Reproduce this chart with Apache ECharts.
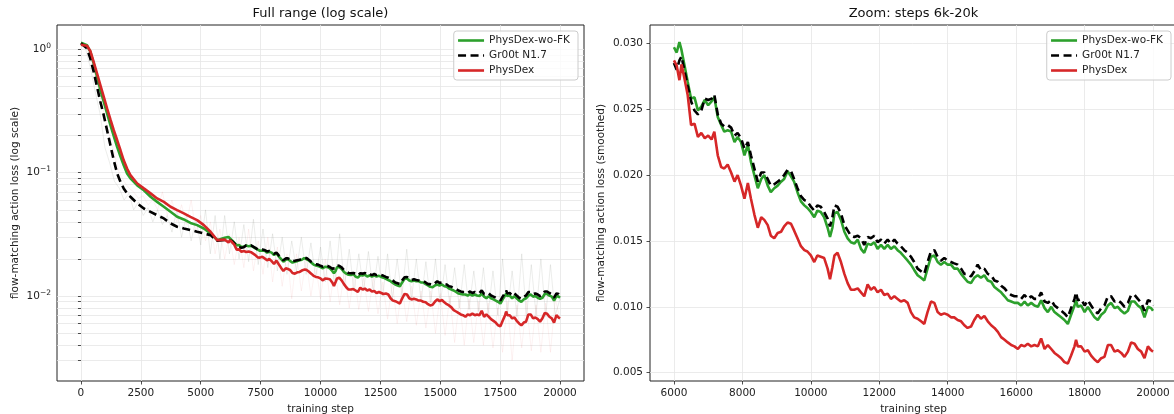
<!DOCTYPE html>
<html><head><meta charset="utf-8">
<script src="https://cdn.jsdelivr.net/npm/echarts@6/dist/echarts.min.js"></script>
<style>html,body{margin:0;padding:0;background:#fff}#c{width:1174px;height:414px}</style>
</head><body><div id="c"></div>
<script>
// ---- series names ----
const names = ['PhysDex-wo-FK', 'Gr00t N1.7', 'PhysDex'];

// ---- early part (steps 0 .. 5700), smoothed ----
const earlySteps = [0,250,390,530,670,810,950,1090,1230,1370,
  1510,1650,1785,1925,2065,2350,2625,2905,3180,3460,
  3740,4015,4295,4570,4850,5130,5410,5685];
const earlyWoFK = [1.13,1.08,0.957,0.77,0.60,0.468,0.376,0.303,0.243,0.198,
  0.162,0.135,0.115,0.0987,0.090,0.079,0.072,0.0638,0.058,0.053,
  0.0482,0.0439,0.0418,0.0392,0.0376,0.0353,0.0322,0.0284];
const earlyGr00t = [1.12,1.02,0.845,0.659,0.498,0.376,0.293,0.221,0.167,0.126,
  0.0987,0.0844,0.0746,0.068,0.0638,0.0564,0.0513,0.0482,0.0453,0.0426,
  0.0388,0.0365,0.0353,0.0343,0.0332,0.0322,0.0312,0.0281];
const earlyPhysDex = [1.09,1.07,0.97,0.79,0.64,0.513,0.413,0.332,0.270,0.221,
  0.184,0.152,0.126,0.108,0.0957,0.0818,0.0746,0.068,0.0619,0.058,
  0.053,0.0498,0.0468,0.0439,0.0413,0.0376,0.0332,0.0284];

// ---- late part (steps 6000 .. 20000), smoothed ----
const lateSteps = [6000,6080,6160,6220,6310,6400,6500,6600,6700,6800,
  6900,7000,7100,7180,7280,7380,7470,7570,7670,7770,
  7860,7960,8060,8160,8250,8350,8450,8550,8640,8740,
  8830,8930,9030,9130,9220,9320,9420,9510,9610,9710,
  9810,9900,10000,10100,10190,10290,10390,10490,10560,10630,
  10690,10780,10880,10980,11075,11170,11270,11370,11465,11560,
  11660,11755,11855,11950,12050,12145,12245,12340,12440,12535,
  12630,12730,12830,12925,13020,13120,13220,13315,13410,13510,
  13610,13705,13800,13900,14000,14095,14190,14290,14390,14485,
  14580,14680,14775,14875,14970,15070,15170,15270,15365,15465,
  15560,15660,15755,15855,15950,16050,16145,16245,16340,16440,
  16535,16635,16730,16830,16925,17025,17120,17220,17315,17410,
  17510,17605,17705,17750,17800,17900,18000,18095,18190,18290,
  18385,18485,18580,18680,18775,18875,18970,19070,19165,19265,
  19360,19460,19555,19655,19750,19850,19945,20000];
const lateWoFK = [.0297,.0293,.0301,.0295,.0283,.0271,.0258,.0259,.0249,.0252,
  .0257,.0253,.0256,.0259,.0244,.0238,.0233,.0234,.0233,.0225,
  .0229,.0225,.0215,.0223,.0210,.0200,.0190,.0197,.0200,.0192,
  .0187,.0190,.0192,.0195,.0197,.0203,.0199,.0195,.0187,.0180,
  .0177,.0175,.0172,.0168,.0173,.0172,.0168,.0160,.0153,.0160,
  .0171,.0172,.0166,.0157,.0152,.0149,.0148,.0151,.0144,.0141,
  .0148,.0147,.0149,.0144,.0147,.0144,.0147,.0144,.0146,.0143,
  .0141,.0138,.0135,.0132,.0128,.0124,.0122,.0120,.0129,.0138,
  .0139,.0134,.0132,.0134,.0132,.0132,.0129,.0129,.0125,.0122,
  .0119,.0118,.0122,.0124,.0122,.0124,.0120,.0119,.0115,.0113,
  .0111,.0108,.0105,.0104,.0103,.0103,.0101,.0104,.0101,.0103,
  .0101,.0100,.0105,.0099,.0096,.0100,.0096,.0094,.0092,.0090,
  .0087,.0094,.0101,.0105,.0100,.0101,.0096,.0100,.0096,.0092,
  .0090,.0094,.0096,.0101,.0103,.0099,.0100,.0097,.0095,.0097,
  .0104,.0104,.0101,.0099,.0092,.0100,.0099,.0097];
const lateGr00t = [.0285,.0280,.0287,.0290,.0279,.0268,.0256,.0249,.0246,.0249,
  .0258,.0257,.0258,.0261,.0246,.0239,.0237,.0238,.0236,.0230,
  .0232,.0228,.0220,.0225,.0215,.0205,.0195,.0202,.0202,.0197,
  .0192,.0193,.0195,.0197,.0200,.0204,.0203,.0197,.0190,.0184,
  .0181,.0180,.0176,.0173,.0177,.0176,.0172,.0167,.0161,.0168,
  .0177,.0176,.0171,.0162,.0158,.0154,.0153,.0154,.0152,.0147,
  .0153,.0152,.0154,.0149,.0151,.0148,.0151,.0148,.0151,.0148,
  .0146,.0143,.0141,.0138,.0134,.0129,.0127,.0125,.0134,.0142,
  .0143,.0138,.0135,.0137,.0135,.0134,.0133,.0132,.0129,.0125,
  .0125,.0123,.0127,.0132,.0128,.0129,.0125,.0124,.0120,.0119,
  .0116,.0114,.0111,.0109,.0108,.0108,.0106,.0109,.0106,.0108,
  .0106,.0106,.0111,.0104,.0103,.0105,.0101,.0099,.0097,.0095,
  .0092,.0099,.0106,.0111,.0105,.0106,.0101,.0105,.0101,.0097,
  .0095,.0099,.0101,.0108,.0108,.0104,.0105,.0103,.0100,.0103,
  .0109,.0109,.0106,.0103,.0097,.0105,.0104,.0101];
const latePhysDex = [.0287,.0283,.0272,.0284,.0273,.0261,.0238,.0239,.0229,.0232,
  .0228,.0230,.0227,.0233,.0215,.0206,.0205,.0208,.0202,.0195,
  .0200,.0192,.0182,.0194,.0182,.0170,.0160,.0168,.0166,.0162,
  .0154,.0152,.0156,.0157,.0161,.0164,.0163,.0158,.0152,.0146,
  .0143,.0142,.0139,.0134,.0139,.0138,.0137,.0129,.0121,.0130,
  .0139,.0141,.0134,.0125,.0118,.0113,.0113,.0114,.0111,.0108,
  .0117,.0113,.0115,.0111,.0113,.0109,.0110,.0106,.0108,.0106,
  .0104,.0105,.0103,.0096,.0092,.0091,.0089,.0087,.0096,.0104,
  .0103,.0096,.0094,.0095,.0094,.0092,.0092,.0090,.0089,.0086,
  .0084,.0085,.0090,.0094,.0091,.0093,.0089,.0086,.0084,.0081,
  .0077,.0075,.0073,.0071,.0070,.0068,.0071,.0070,.0072,.0070,
  .0071,.0070,.0076,.0068,.0071,.0068,.0065,.0063,.0061,.0058,
  .0057,.0063,.0070,.0075,.0070,.0070,.0066,.0067,.0063,.0060,
  .0058,.0061,.0062,.0071,.0071,.0066,.0067,.0065,.0062,.0066,
  .0073,.0072,.0068,.0066,.0061,.0070,.0067,.0066];

// ---- raw (unsmoothed) traces, faint, every 200 steps ----
const rawSteps = [];
for (let s = 0; s <= 20000; s += 200) rawSteps.push(s);
const rawGrey = [1.10,1.0,0.70,0.45,0.30,0.16,0.12,0.085,0.075,0.06,
  0.068,0.05,0.058,0.045,0.052,0.04,0.05,0.038,0.045,0.033,
  0.05,0.03,0.045,0.028,0.042,0.026,0.05,0.022,0.045,0.02,
  0.045,0.022,0.04,0.02,0.038,0.019,0.042,0.018,0.035,0.017,
  0.032,0.016,0.03,0.015,0.028,0.016,0.03,0.015,0.027,0.014,
  0.025,0.013,0.028,0.012,0.032,0.012,0.024,0.011,0.022,0.011,
  0.023,0.011,0.021,0.010,0.022,0.0095,0.02,0.01,0.024,0.0095,
  0.02,0.009,0.019,0.0088,0.02,0.0085,0.018,0.0085,0.017,0.008,
  0.018,0.0078,0.016,0.0075,0.017,0.0072,0.016,0.007,0.02,0.0072,
  0.016,0.0068,0.022,0.0068,0.018,0.007,0.02,0.0068,0.018,0.007,
  0.0095];
const rawPink = [1.08,1.05,0.85,0.60,0.42,0.28,0.20,0.14,0.10,0.085,
  0.075,0.07,0.062,0.065,0.055,0.06,0.05,0.07,0.045,0.06,
  0.04,0.055,0.038,0.06,0.033,0.045,0.028,0.04,0.022,0.035,
  0.02,0.032,0.018,0.03,0.017,0.035,0.016,0.028,0.015,0.03,
  0.013,0.025,0.012,0.022,0.0095,0.022,0.011,0.02,0.010,0.018,
  0.0095,0.02,0.009,0.017,0.0085,0.016,0.008,0.015,0.0078,0.014,
  0.0075,0.014,0.0072,0.013,0.0065,0.013,0.006,0.012,0.0062,0.012,
  0.0058,0.011,0.0055,0.011,0.005,0.0105,0.0048,0.01,0.0042,0.0095,
  0.004,0.0095,0.0042,0.009,0.004,0.0088,0.0038,0.008,0.0035,0.009,
  0.003,0.0085,0.0038,0.009,0.0036,0.0085,0.0035,0.0088,0.0035,0.0095,
  0.0065];

// ---- tick values ----
const leftXTicks = [0,2500,5000,7500,10000,12500,15000,17500,20000];
const leftYMajor = [0.01, 0.1, 1];
const leftYGrid = [0.003,0.004,0.005,0.006,0.007,0.008,0.009,0.01,
  0.02,0.03,0.04,0.05,0.06,0.07,0.08,0.09,0.1,
  0.2,0.3,0.4,0.5,0.6,0.7,0.8,0.9,1];
const rightXTicks = [6000,8000,10000,12000,14000,16000,18000,20000];
const rightYTicks = [0.005,0.010,0.015,0.020,0.025,0.030];

const FONT = 'DejaVu Sans';
const colors = {'PhysDex-wo-FK': '#2ca02c', 'Gr00t N1.7': '#000000', 'PhysDex': '#d62728'};

function pairs(xs, ys) { return xs.map((x, i) => [x, ys[i]]); }
const allSteps = earlySteps.concat(lateSteps);
const fullData = {
  'PhysDex-wo-FK': pairs(allSteps, earlyWoFK.concat(lateWoFK)),
  'Gr00t N1.7': pairs(allSteps, earlyGr00t.concat(lateGr00t)),
  'PhysDex': pairs(allSteps, earlyPhysDex.concat(latePhysDex))
};
const zoomData = {
  'PhysDex-wo-FK': pairs(lateSteps, lateWoFK),
  'Gr00t N1.7': pairs(lateSteps, lateGr00t),
  'PhysDex': pairs(lateSteps, latePhysDex)
};

function supLabel(v) {
  const e = Math.round(Math.log10(v));
  return '{b|10}{s|' + (e < 0 ? '\u2212' + (-e) : e) + '}';
}

const axisText = {fontFamily: FONT, fontSize: 10.5, color: '#222'};
const gridLine = {show: true, lineStyle: {color: '#e6e6e6', width: 0.8}};
const tickStyle = {lineStyle: {color: '#222', width: 0.8}};

function mainSeries(name, xi, data) {
  const isBlack = name === 'Gr00t N1.7';
  return {
    name: name, type: 'line', xAxisIndex: xi, yAxisIndex: xi, data: data,
    symbol: 'none', showSymbol: false, z: 3, clip: true,
    lineStyle: {color: colors[name], width: 2.6, type: isBlack ? [8, 4.5] : 'solid'},
    itemStyle: {color: colors[name]},
    emphasis: {disabled: true}
  };
}

function legendAt(right) {
  return {
    data: names, orient: 'vertical', right: right, top: 31,
    itemWidth: 26, itemHeight: 10, itemGap: 4,
    padding: [4, 8, 4, 3],
    borderColor: '#cccccc', borderWidth: 1, borderRadius: 3,
    backgroundColor: 'rgba(255,255,255,0.8)',
    textStyle: {fontFamily: FONT, fontSize: 10.5, color: '#222'},
    lineStyle: {width: 2.6},
    itemStyle: {color: 'rgba(0,0,0,0)', borderWidth: 0, opacity: 0},
    selectedMode: false
  };
}

const chart = echarts.init(document.getElementById('c'), null, {renderer: 'canvas'});
chart.setOption({
  animation: false,
  backgroundColor: '#ffffff',
  textStyle: {fontFamily: FONT},
  graphic: [
    {type: 'text', x: 320.5, y: 14, style: {text: 'Full range (log scale)', align: 'center', verticalAlign: 'middle', font: '13px "DejaVu Sans"', fill: '#111'}},
    {type: 'text', x: 913.5, y: 14, style: {text: 'Zoom: steps 6k-20k', align: 'center', verticalAlign: 'middle', font: '13px "DejaVu Sans"', fill: '#111'}}
  ],
  legend: [legendAt(596), legendAt(3)],
  grid: [
    {left: 57, top: 25, width: 527, height: 356, show: true, borderColor: '#222', borderWidth: 1, backgroundColor: 'transparent', containLabel: false, outerBoundsMode: 'none'},
    {left: 650, top: 25, width: 527, height: 356, show: true, borderColor: '#222', borderWidth: 1, backgroundColor: 'transparent', containLabel: false, outerBoundsMode: 'none'}
  ],
  xAxis: [
    {type: 'value', gridIndex: 0, min: -1000, max: 21000,
     name: 'training step', nameLocation: 'middle', nameGap: 21,
     nameTextStyle: {fontFamily: FONT, fontSize: 10.5, color: '#222'},
     axisLine: {show: false},
     axisTick: Object.assign({show: true, length: 3.5, customValues: leftXTicks}, tickStyle),
     axisLabel: Object.assign({margin: 7, customValues: leftXTicks, formatter: v => String(v)}, axisText),
     splitLine: gridLine},
    {type: 'value', gridIndex: 1, min: 5300, max: 20700,
     name: 'training step', nameLocation: 'middle', nameGap: 21,
     nameTextStyle: {fontFamily: FONT, fontSize: 10.5, color: '#222'},
     axisLine: {show: false},
     axisTick: Object.assign({show: true, length: 3.5, customValues: rightXTicks}, tickStyle),
     axisLabel: Object.assign({margin: 7, customValues: rightXTicks, formatter: v => String(v)}, axisText),
     splitLine: gridLine}
  ],
  yAxis: [
    {type: 'log', logBase: 10, gridIndex: 0, min: 0.00205, max: 1.575,
     name: 'flow-matching action loss (log scale)', nameLocation: 'middle', nameGap: 36,
     nameTextStyle: {fontFamily: FONT, fontSize: 10.5, color: '#222'},
     axisLine: {show: false},
     axisTick: Object.assign({show: true, length: 3, customValues: leftYGrid}, tickStyle),
     axisLabel: Object.assign({margin: 6, customValues: leftYMajor, formatter: supLabel,
       rich: {b: {fontFamily: FONT, fontSize: 10.5, color: '#222'},
              s: {fontFamily: FONT, fontSize: 7.5, color: '#222', padding: [0, 0, 7, 0], verticalAlign: 'bottom'}}}, axisText),
     splitLine: gridLine},
    {type: 'value', gridIndex: 1, min: 0.00437, max: 0.03139,
     name: 'flow-matching action loss (smoothed)', nameLocation: 'middle', nameGap: 43,
     nameTextStyle: {fontFamily: FONT, fontSize: 10.5, color: '#222'},
     axisLine: {show: false},
     axisTick: Object.assign({show: true, length: 3.5, customValues: rightYTicks}, tickStyle),
     axisLabel: Object.assign({margin: 7, customValues: rightYTicks, formatter: v => v.toFixed(3)}, axisText),
     splitLine: gridLine}
  ],
  series: [
    {name: 'raw-grey', type: 'line', xAxisIndex: 0, yAxisIndex: 0, data: pairs(rawSteps, rawGrey),
     symbol: 'none', silent: true, z: 1, lineStyle: {color: 'rgba(110,115,100,0.13)', width: 1}, emphasis: {disabled: true}},
    {name: 'raw-pink', type: 'line', xAxisIndex: 0, yAxisIndex: 0, data: pairs(rawSteps, rawPink),
     symbol: 'none', silent: true, z: 1, lineStyle: {color: 'rgba(214,39,40,0.06)', width: 1}, emphasis: {disabled: true}},
    mainSeries('PhysDex-wo-FK', 0, fullData['PhysDex-wo-FK']),
    mainSeries('Gr00t N1.7', 0, fullData['Gr00t N1.7']),
    mainSeries('PhysDex', 0, fullData['PhysDex']),
    mainSeries('PhysDex-wo-FK', 1, zoomData['PhysDex-wo-FK']),
    mainSeries('Gr00t N1.7', 1, zoomData['Gr00t N1.7']),
    mainSeries('PhysDex', 1, zoomData['PhysDex'])
  ]
});
</script>
</body></html>
